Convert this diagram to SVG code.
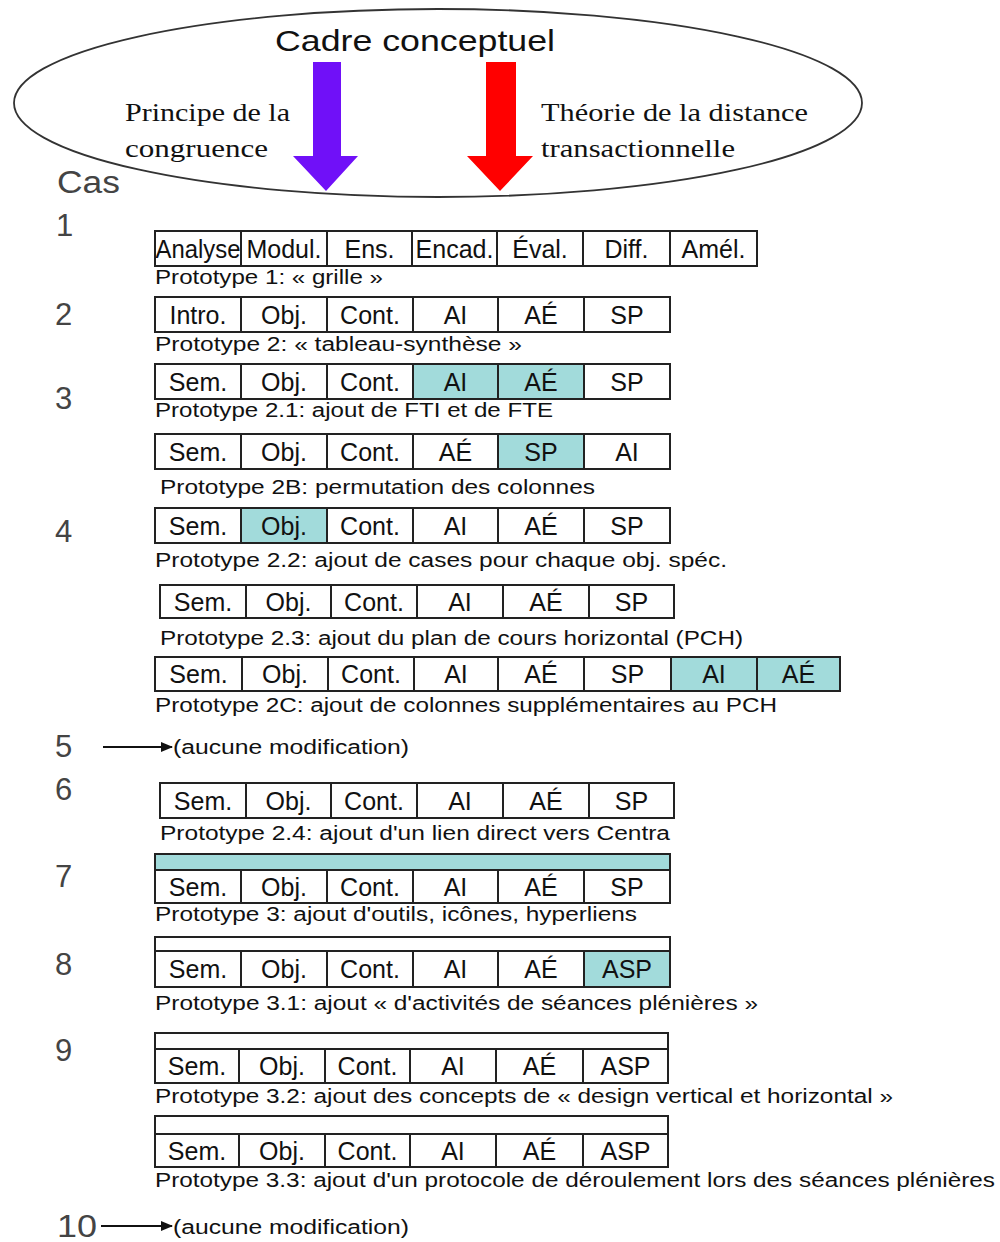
<svg xmlns="http://www.w3.org/2000/svg" width="1000" height="1242" viewBox="0 0 1000 1242">
<defs>
<marker id="ah" markerWidth="12" markerHeight="12" refX="11" refY="6" orient="auto" markerUnits="userSpaceOnUse"><path d="M0,1 L12,6 L0,11 z" fill="#111"/></marker>
</defs>
<style>
.c{fill:#fff;stroke:#222;stroke-width:2}
.h{fill:#a2dbdb;stroke:#222;stroke-width:2}
.t{font-family:"Liberation Sans",Arial,sans-serif;font-size:25px;text-anchor:middle;fill:#111}
.cap{font-family:"Liberation Sans",Arial,sans-serif;font-size:20px;fill:#111}
.n{font-family:"Liberation Sans",Arial,sans-serif;font-size:31px;fill:#444}
.s{font-family:"Liberation Serif","Times New Roman",serif;font-size:26px;fill:#111}
.hd{font-family:"Liberation Sans",Arial,sans-serif;font-size:30px;fill:#111}
.ln{stroke:#111;stroke-width:1.8;fill:none}
</style>
<rect width="1000" height="1242" fill="#fff"/>

<g id="cadre">
<ellipse cx="438" cy="103" rx="424" ry="94" fill="none" stroke="#333" stroke-width="1.8"/>
<text class="hd" x="275" y="51" textLength="280" lengthAdjust="spacingAndGlyphs">Cadre conceptuel</text>
<polygon points="313,62 341,62 341,156 358,156 326,191 293,156 313,156" fill="#7010f8"/>
<polygon points="486,62 516,62 516,156 533,156 500,191 467,156 486,156" fill="#ff0000"/>
<text class="s" x="125" y="121" textLength="165" lengthAdjust="spacingAndGlyphs">Principe de la</text>
<text class="s" x="125" y="157" textLength="143" lengthAdjust="spacingAndGlyphs">congruence</text>
<text class="s" x="541" y="121" textLength="267" lengthAdjust="spacingAndGlyphs">Théorie de la distance</text>
<text class="s" x="541" y="157" textLength="194" lengthAdjust="spacingAndGlyphs">transactionnelle</text>
</g>

<g id="cas-labels">
<text class="n" x="57" y="193" textLength="63" lengthAdjust="spacingAndGlyphs">Cas</text>
<text class="n" x="56" y="236">1</text>
<text class="n" x="55" y="325">2</text>
<text class="n" x="55" y="409">3</text>
<text class="n" x="55" y="542">4</text>
<text class="n" x="55" y="757">5</text>
<text class="n" x="55" y="800">6</text>
<text class="n" x="55" y="887">7</text>
<text class="n" x="55" y="975">8</text>
<text class="n" x="55" y="1061">9</text>
<text class="n" x="57" y="1237" textLength="40" lengthAdjust="spacingAndGlyphs">10</text>
</g>

<g id="proto-1">
<rect class="c" x="155" y="231" width="86" height="35"/><rect class="c" x="241" y="231" width="86" height="35"/><rect class="c" x="327" y="231" width="85" height="35"/><rect class="c" x="412" y="231" width="85" height="35"/><rect class="c" x="497" y="231" width="86" height="35"/><rect class="c" x="583" y="231" width="87" height="35"/><rect class="c" x="670" y="231" width="87" height="35"/>
<text class="t" x="198" y="258" textLength="85" lengthAdjust="spacingAndGlyphs">Analyse</text><text class="t" x="284" y="258">Modul.</text><text class="t" x="369.5" y="258">Ens.</text><text class="t" x="454.5" y="258">Encad.</text><text class="t" x="540" y="258">Éval.</text><text class="t" x="626.5" y="258">Diff.</text><text class="t" x="713.5" y="258">Amél.</text>
<text class="cap" x="155" y="284" textLength="228" lengthAdjust="spacingAndGlyphs">Prototype 1: « grille »</text>
</g>

<g id="proto-2">
<rect class="c" x="155" y="297" width="86" height="35"/><rect class="c" x="241" y="297" width="86" height="35"/><rect class="c" x="327" y="297" width="86" height="35"/><rect class="c" x="413" y="297" width="85" height="35"/><rect class="c" x="498" y="297" width="86" height="35"/><rect class="c" x="584" y="297" width="86" height="35"/>
<text class="t" x="198" y="324">Intro.</text><text class="t" x="284" y="324">Obj.</text><text class="t" x="370" y="324">Cont.</text><text class="t" x="455.5" y="324">AI</text><text class="t" x="541" y="324">AÉ</text><text class="t" x="627" y="324">SP</text>
<text class="cap" x="155" y="351" textLength="367" lengthAdjust="spacingAndGlyphs">Prototype 2: « tableau-synthèse »</text>
</g>

<g id="proto-2-1">
<rect class="c" x="155" y="364" width="86" height="35"/><rect class="c" x="241" y="364" width="86" height="35"/><rect class="c" x="327" y="364" width="86" height="35"/><rect class="h" x="413" y="364" width="85" height="35"/><rect class="h" x="498" y="364" width="86" height="35"/><rect class="c" x="584" y="364" width="86" height="35"/>
<text class="t" x="198" y="391">Sem.</text><text class="t" x="284" y="391">Obj.</text><text class="t" x="370" y="391">Cont.</text><text class="t" x="455.5" y="391">AI</text><text class="t" x="541" y="391">AÉ</text><text class="t" x="627" y="391">SP</text>
<text class="cap" x="155" y="417" textLength="398" lengthAdjust="spacingAndGlyphs">Prototype 2.1: ajout de FTI et de FTE</text>
</g>

<g id="proto-2B">
<rect class="c" x="155" y="434" width="86" height="35"/><rect class="c" x="241" y="434" width="86" height="35"/><rect class="c" x="327" y="434" width="86" height="35"/><rect class="c" x="413" y="434" width="85" height="35"/><rect class="h" x="498" y="434" width="86" height="35"/><rect class="c" x="584" y="434" width="86" height="35"/>
<text class="t" x="198" y="461">Sem.</text><text class="t" x="284" y="461">Obj.</text><text class="t" x="370" y="461">Cont.</text><text class="t" x="455.5" y="461">AÉ</text><text class="t" x="541" y="461">SP</text><text class="t" x="627" y="461">AI</text>
<text class="cap" x="160" y="494" textLength="435" lengthAdjust="spacingAndGlyphs">Prototype 2B: permutation des colonnes</text>
</g>

<g id="proto-2-2">
<rect class="c" x="155" y="508" width="86" height="35"/><rect class="h" x="241" y="508" width="86" height="35"/><rect class="c" x="327" y="508" width="86" height="35"/><rect class="c" x="413" y="508" width="85" height="35"/><rect class="c" x="498" y="508" width="86" height="35"/><rect class="c" x="584" y="508" width="86" height="35"/>
<text class="t" x="198" y="535">Sem.</text><text class="t" x="284" y="535">Obj.</text><text class="t" x="370" y="535">Cont.</text><text class="t" x="455.5" y="535">AI</text><text class="t" x="541" y="535">AÉ</text><text class="t" x="627" y="535">SP</text>
<text class="cap" x="155" y="567" textLength="572" lengthAdjust="spacingAndGlyphs">Prototype 2.2: ajout de cases pour chaque obj. spéc.</text>
</g>

<g id="proto-2-3">
<rect class="c" x="160" y="585" width="86" height="33"/><rect class="c" x="246" y="585" width="85" height="33"/><rect class="c" x="331" y="585" width="86" height="33"/><rect class="c" x="417" y="585" width="86" height="33"/><rect class="c" x="503" y="585" width="86" height="33"/><rect class="c" x="589" y="585" width="85" height="33"/>
<text class="t" x="203" y="611">Sem.</text><text class="t" x="288.5" y="611">Obj.</text><text class="t" x="374" y="611">Cont.</text><text class="t" x="460" y="611">AI</text><text class="t" x="546" y="611">AÉ</text><text class="t" x="631.5" y="611">SP</text>
<text class="cap" x="160" y="645" textLength="583" lengthAdjust="spacingAndGlyphs">Prototype 2.3: ajout du plan de cours horizontal (PCH)</text>
</g>

<g id="proto-2C">
<rect class="c" x="155" y="657" width="87" height="34"/><rect class="c" x="242" y="657" width="86" height="34"/><rect class="c" x="328" y="657" width="86" height="34"/><rect class="c" x="414" y="657" width="84" height="34"/><rect class="c" x="498" y="657" width="86" height="34"/><rect class="c" x="584" y="657" width="87" height="34"/><rect class="h" x="671" y="657" width="86" height="34"/><rect class="h" x="757" y="657" width="83" height="34"/>
<text class="t" x="198.5" y="683">Sem.</text><text class="t" x="285" y="683">Obj.</text><text class="t" x="371" y="683">Cont.</text><text class="t" x="456" y="683">AI</text><text class="t" x="541" y="683">AÉ</text><text class="t" x="627.5" y="683">SP</text><text class="t" x="714" y="683">AI</text><text class="t" x="798.5" y="683">AÉ</text>
<text class="cap" x="155" y="712" textLength="622" lengthAdjust="spacingAndGlyphs">Prototype 2C: ajout de colonnes supplémentaires au PCH</text>
</g>

<g id="case-5">
<text class="cap" x="173" y="754" textLength="236" lengthAdjust="spacingAndGlyphs">(aucune modification)</text>
</g>

<g id="proto-2-4">
<rect class="c" x="160" y="783" width="86" height="35"/><rect class="c" x="246" y="783" width="85" height="35"/><rect class="c" x="331" y="783" width="86" height="35"/><rect class="c" x="417" y="783" width="86" height="35"/><rect class="c" x="503" y="783" width="86" height="35"/><rect class="c" x="589" y="783" width="85" height="35"/>
<text class="t" x="203" y="810">Sem.</text><text class="t" x="288.5" y="810">Obj.</text><text class="t" x="374" y="810">Cont.</text><text class="t" x="460" y="810">AI</text><text class="t" x="546" y="810">AÉ</text><text class="t" x="631.5" y="810">SP</text>
<text class="cap" x="160" y="840" textLength="510" lengthAdjust="spacingAndGlyphs">Prototype 2.4: ajout d'un lien direct vers Centra</text>
</g>

<g id="proto-3">
<rect class="h" x="155" y="854" width="515" height="16"/>
<rect class="c" x="155" y="870" width="86" height="33"/><rect class="c" x="241" y="870" width="86" height="33"/><rect class="c" x="327" y="870" width="86" height="33"/><rect class="c" x="413" y="870" width="85" height="33"/><rect class="c" x="498" y="870" width="86" height="33"/><rect class="c" x="584" y="870" width="86" height="33"/>
<text class="t" x="198" y="896">Sem.</text><text class="t" x="284" y="896">Obj.</text><text class="t" x="370" y="896">Cont.</text><text class="t" x="455.5" y="896">AI</text><text class="t" x="541" y="896">AÉ</text><text class="t" x="627" y="896">SP</text>
<text class="cap" x="155" y="921" textLength="482" lengthAdjust="spacingAndGlyphs">Prototype 3: ajout d'outils, icônes, hyperliens</text>
</g>

<g id="proto-3-1">
<rect class="c" x="155" y="937" width="515" height="14"/>
<rect class="c" x="155" y="951" width="86" height="36"/><rect class="c" x="241" y="951" width="86" height="36"/><rect class="c" x="327" y="951" width="86" height="36"/><rect class="c" x="413" y="951" width="85" height="36"/><rect class="c" x="498" y="951" width="86" height="36"/><rect class="h" x="584" y="951" width="86" height="36"/>
<text class="t" x="198" y="978">Sem.</text><text class="t" x="284" y="978">Obj.</text><text class="t" x="370" y="978">Cont.</text><text class="t" x="455.5" y="978">AI</text><text class="t" x="541" y="978">AÉ</text><text class="t" x="627" y="978">ASP</text>
<text class="cap" x="155" y="1010" textLength="603" lengthAdjust="spacingAndGlyphs">Prototype 3.1: ajout « d'activités de séances plénières »</text>
</g>

<g id="proto-3-2">
<rect class="c" x="155" y="1033" width="513" height="16"/>
<rect class="c" x="155" y="1049" width="84" height="34"/><rect class="c" x="239" y="1049" width="86" height="34"/><rect class="c" x="325" y="1049" width="85" height="34"/><rect class="c" x="410" y="1049" width="86" height="34"/><rect class="c" x="496" y="1049" width="87" height="34"/><rect class="c" x="583" y="1049" width="85" height="34"/>
<text class="t" x="197" y="1075">Sem.</text><text class="t" x="282" y="1075">Obj.</text><text class="t" x="367.5" y="1075">Cont.</text><text class="t" x="453" y="1075">AI</text><text class="t" x="539.5" y="1075">AÉ</text><text class="t" x="625.5" y="1075">ASP</text>
<text class="cap" x="155" y="1103" textLength="738" lengthAdjust="spacingAndGlyphs">Prototype 3.2: ajout des concepts de « design vertical et horizontal »</text>
</g>

<g id="proto-3-3">
<rect class="c" x="155" y="1116" width="513" height="18"/>
<rect class="c" x="155" y="1134" width="84" height="33"/><rect class="c" x="239" y="1134" width="86" height="33"/><rect class="c" x="325" y="1134" width="85" height="33"/><rect class="c" x="410" y="1134" width="86" height="33"/><rect class="c" x="496" y="1134" width="87" height="33"/><rect class="c" x="583" y="1134" width="85" height="33"/>
<text class="t" x="197" y="1160">Sem.</text><text class="t" x="282" y="1160">Obj.</text><text class="t" x="367.5" y="1160">Cont.</text><text class="t" x="453" y="1160">AI</text><text class="t" x="539.5" y="1160">AÉ</text><text class="t" x="625.5" y="1160">ASP</text>
<text class="cap" x="155" y="1187" textLength="840" lengthAdjust="spacingAndGlyphs">Prototype 3.3: ajout d'un protocole de déroulement lors des séances plénières</text>
</g>

<g id="case-10">
<text class="cap" x="173" y="1234" textLength="236" lengthAdjust="spacingAndGlyphs">(aucune modification)</text>
</g>

<g id="connectors">
<line class="ln" x1="103" y1="747" x2="172" y2="747" marker-end="url(#ah)"/>
<line class="ln" x1="101" y1="1226" x2="172" y2="1226" marker-end="url(#ah)"/>
</g>
</svg>
